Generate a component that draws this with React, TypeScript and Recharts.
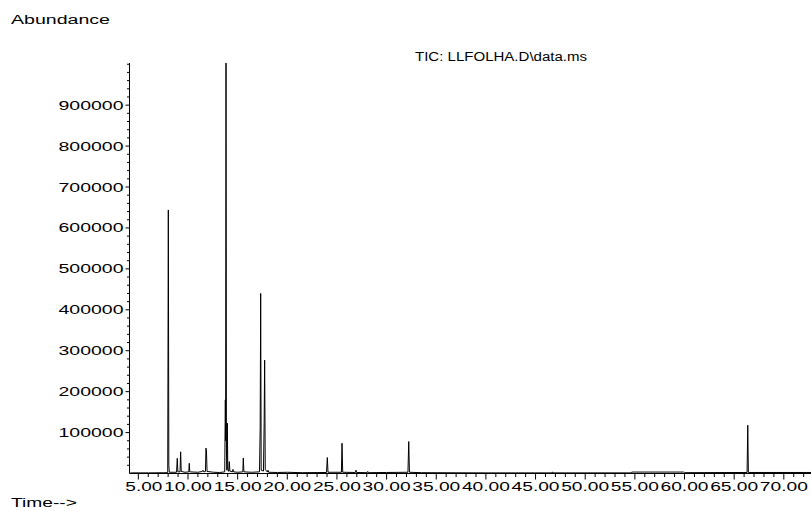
import { LineChart, Line, XAxis, YAxis } from "recharts";

// retention time (min) and TIC abundance
const times = [
  4.2, 6.0, 7.5, 7.96, 8.02, 8.07, 8.12, 8.85, 8.92, 8.98, 9.2, 9.26, 9.32, 9.7,
  10.08, 10.13, 10.18, 11.0, 11.45, 11.51, 11.6, 11.76, 11.81, 11.86, 11.92,
  12.6, 13.2, 13.7, 13.76, 13.79, 13.83, 13.87, 13.92, 13.96, 14.01, 14.1,
  14.16, 14.22, 14.47, 14.53, 14.6, 15.0, 15.52, 15.57, 15.63, 16.4, 17.2,
  17.27, 17.32, 17.37, 17.6, 17.67, 17.72, 17.78, 17.9, 18.0, 18.06, 18.12,
  19.0, 20.0, 21.5, 23.95, 24.03, 24.1, 25.45, 25.51, 25.58, 26.86, 26.92,
  26.98, 28.04, 28.1, 28.16, 30.0, 32.15, 32.23, 32.3, 33.5, 40.0, 46.64,
  46.7, 46.76, 54.6, 54.7, 59.9, 60.0, 66.3, 66.37, 66.43, 73.14,
];
const abundance = [
  1500, 1500, 1800, 2000, 644000, 20000, 3000, 3000, 37000, 4000, 4000, 53000,
  5000, 3000, 4000, 25000, 4000, 3000, 5000, 8000, 4000, 5000, 62000, 55000,
  5000, 3000, 2500, 4000, 180000, 80000, 1003000, 60000, 8000, 123000, 10000,
  5000, 29000, 6000, 4000, 10000, 4000, 3000, 4000, 38000, 4000, 3000, 4000,
  111000, 440000, 8000, 6000, 127000, 277000, 10000, 6000, 3500, 8000, 3000,
  2500, 3000, 2000, 2500, 39000, 3000, 3000, 74000, 3000, 2500, 8000, 2500,
  2000, 5000, 2000, 2500, 3000, 78000, 3000, 2000, 1500, 1500, 4000, 1500,
  1500, 3500, 3500, 2000, 2500, 118000, 2500, 2500,
];

const xMajor = [5, 10, 15, 20, 25, 30, 35, 40, 45, 50, 55, 60, 65, 70];
const xLabels = [
  "5.00", "10.00", "15.00", "20.00", "25.00", "30.00", "35.00",
  "40.00", "45.00", "50.00", "55.00", "60.00", "65.00", "70.00",
];
const yMajor = [100000, 200000, 300000, 400000, 500000, 600000, 700000, 800000, 900000];
const yLabels = [
  "100000", "200000", "300000", "400000", "500000",
  "600000", "700000", "800000", "900000",
];

const xTicks = Array.from({ length: 69 }, (_, i) => i + 5); // every minute
const yTicks = Array.from({ length: 50 }, (_, i) => (i + 1) * 20000); // every 20000

const data = times.map((t, i) => ({ t, v: abundance[i] }));

const FONT = "'Liberation Sans', Arial, sans-serif";

function TimeTick({ x, y, payload }: any) {
  const i = xMajor.indexOf(payload.value);
  const major = i >= 0;
  const label = major ? xLabels[i] : "";
  return (
    <g>
      <line x1={x} x2={x} y1={y} y2={y + (major ? 6 : 3.5)} stroke="#000" />
      {major && (
        <text
          x={x + 24}
          y={y + 17}
          textAnchor="end"
          fontFamily={FONT}
          fontSize={12}
          fill="#000"
          textLength={label.length === 5 ? 48 : 37}
          lengthAdjust="spacingAndGlyphs"
        >
          {label}
        </text>
      )}
    </g>
  );
}

function AbundanceTick({ x, y, payload }: any) {
  const i = yMajor.indexOf(payload.value);
  const major = i >= 0;
  return (
    <g>
      <line x1={x} x2={x - (major ? 4 : 2.5)} y1={y} y2={y} stroke="#000" />
      {major && (
        <text
          x={x - 6}
          y={y + 4.5}
          textAnchor="end"
          fontFamily={FONT}
          fontSize={12}
          fill="#000"
          textLength={65}
          lengthAdjust="spacingAndGlyphs"
        >
          {yLabels[i]}
        </text>
      )}
    </g>
  );
}

export default function App() {
  return (
    <div
      style={{
        position: "fixed",
        left: 0,
        top: 0,
        width: 811,
        height: 511,
        overflow: "hidden",
        background: "#fff",
      }}
    >
      <LineChart
        width={815}
        height={511}
        data={data}
        margin={{ top: 63, right: 0, bottom: 0, left: 0 }}
      >
        <XAxis
          dataKey="t"
          type="number"
          domain={[4.11, 73.14]}
          allowDataOverflow
          ticks={xTicks}
          interval={0}
          tick={<TimeTick />}
          tickLine={false}
          tickSize={0}
          tickMargin={0}
          height={37.5}
          axisLine={{ stroke: "#000" }}
        />
        <YAxis
          type="number"
          domain={[0, 1003000]}
          allowDataOverflow
          ticks={yTicks}
          interval={0}
          tick={<AbundanceTick />}
          tickLine={false}
          tickSize={0}
          tickMargin={0}
          width={129.5}
          axisLine={{ stroke: "#000" }}
        />
        <Line
          dataKey="v"
          type="linear"
          stroke="#000"
          strokeWidth={1}
          dot={false}
          isAnimationActive={false}
        />
      </LineChart>
      <svg
        width={811}
        height={511}
        style={{ position: "absolute", left: 0, top: 0, pointerEvents: "none" }}
      >
        <g fontFamily={FONT} fontSize={12} fill="#000">
          <text x={11} y={24} textLength={99} lengthAdjust="spacingAndGlyphs">
            Abundance
          </text>
          <text x={415} y={61} textLength={172} lengthAdjust="spacingAndGlyphs">
            {"TIC: LLFOLHA.D\\data.ms"}
          </text>
          <text x={11} y={507} textLength={66} lengthAdjust="spacingAndGlyphs">
            {"Time-->"}
          </text>
        </g>
      </svg>
    </div>
  );
}
